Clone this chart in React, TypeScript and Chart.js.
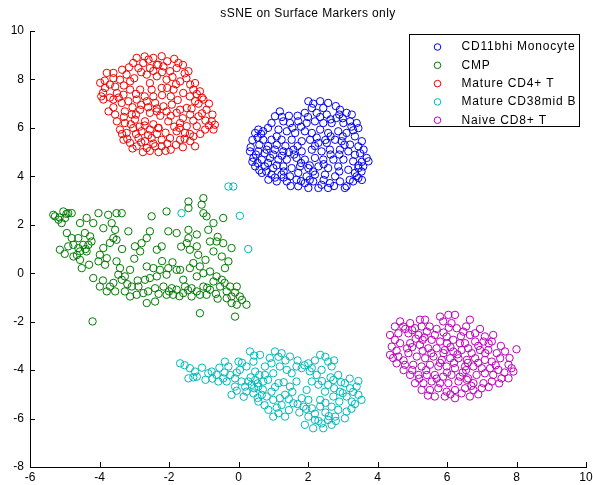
import { useEffect, useRef } from "react";
import { Chart, registerables } from "chart.js";

Chart.register(...registerables);

// ---- text ----
const TITLE = "sSNE on Surface Markers only";
const SERIES_NAMES = ["CD11bhi Monocyte", "CMP", "Mature CD4+ T", "Mature CD38mid B", "Naive CD8+ T"];
const SERIES_COLORS = ["#0000f0", "#007a00", "#f00000", "#00b8b8", "#b800b8"];

// ---- axis ranges / ticks ----
const X_MIN = -6, X_MAX = 10, X_STEP = 2;
const Y_MIN = -8, Y_MAX = 10, Y_STEP = 2;

// ---- embedded coordinates, one list per population ----
const cd11bhiMonocyte: [number, number][] = [
  [2.01, 7.10], [2.35, 7.10], [2.58, 7.03], [2.11, 6.82], [2.44, 6.82], [2.25, 6.62], [1.91, 6.62], [2.92, 6.75],
  [3.11, 6.62], [3.26, 6.55], [2.54, 6.55], [2.82, 6.41], [3.40, 6.20], [3.45, 5.99], [1.19, 6.68], [1.05, 6.48],
  [0.95, 6.20], [1.29, 6.27], [1.48, 6.20], [1.72, 6.27], [1.96, 6.20], [2.20, 6.27], [2.44, 6.20], [2.68, 6.20],
  [3.02, 6.20], [3.21, 6.27], [0.57, 5.93], [0.48, 5.79], [0.71, 5.86], [1.15, 5.93], [1.39, 5.86], [1.63, 5.79],
  [1.91, 5.86], [2.11, 5.79], [2.35, 5.93], [2.58, 5.79], [2.87, 5.86], [3.11, 5.79], [3.35, 5.65], [0.71, 5.51],
  [0.95, 5.51], [1.24, 5.51], [1.53, 5.51], [1.82, 5.45], [2.06, 5.51], [2.30, 5.38], [2.54, 5.38], [2.78, 5.51],
  [2.97, 5.45], [3.21, 5.31], [3.45, 5.24], [0.33, 5.03], [0.57, 5.03], [0.81, 5.10], [1.05, 5.10], [1.29, 5.03],
  [1.58, 5.10], [1.82, 5.03], [2.11, 5.10], [2.39, 5.03], [2.63, 5.10], [2.92, 5.10], [3.16, 5.03], [3.35, 4.89],
  [0.43, 4.76], [0.67, 4.69], [0.91, 4.76], [1.15, 4.69], [1.39, 4.69], [1.67, 4.76], [1.91, 4.69], [2.20, 4.76],
  [2.44, 4.69], [2.73, 4.69], [3.02, 4.69], [3.30, 4.62], [3.69, 4.76], [3.74, 4.62], [0.48, 4.41], [0.76, 4.41],
  [1.00, 4.34], [1.29, 4.41], [1.53, 4.34], [1.77, 4.41], [2.01, 4.34], [2.30, 4.41], [2.58, 4.34], [2.87, 4.41],
  [3.16, 4.27], [3.45, 4.34], [3.59, 4.41], [0.67, 4.14], [0.95, 4.07], [1.24, 4.07], [1.48, 4.00], [1.72, 4.14],
  [1.96, 4.00], [2.20, 4.07], [2.49, 4.07], [2.78, 4.00], [3.35, 4.14], [3.54, 4.20], [0.86, 3.86], [1.10, 3.79],
  [1.39, 3.79], [1.67, 3.86], [1.91, 3.72], [2.15, 3.79], [2.39, 3.65], [2.63, 3.72], [2.92, 3.79], [3.11, 3.59],
  [3.30, 3.79], [3.45, 3.93], [1.72, 3.59], [2.01, 3.52], [2.30, 3.52], [2.58, 3.52], [3.06, 3.52],
  [0.60, 5.30], [0.85, 5.25], [1.10, 5.30], [1.35, 5.25], [0.75, 4.95], [1.00, 4.90], [1.25, 4.85], [0.55, 4.55],
  [0.85, 4.55], [1.10, 4.45], [1.60, 4.90], [1.80, 4.55], [2.05, 4.45], [2.20, 5.25], [2.50, 5.50], [2.65, 4.90],
  [2.90, 4.90], [3.05, 5.30], [2.35, 6.45], [2.65, 6.35], [2.00, 6.45], [1.55, 6.00], [1.80, 6.05], [1.10, 5.65],
  [3.45, 4.45], [3.55, 4.60], [3.40, 4.00], [3.55, 3.85], [2.45, 3.85], [1.50, 3.60], [2.15, 4.20], [1.30, 4.20],
  [0.55, 5.60], [0.35, 5.20], [3.25, 6.05], [2.90, 6.55],
  [0.40, 5.50], [0.65, 5.75], [0.85, 6.00], [1.25, 6.45], [1.45, 6.50], [1.70, 6.50], [2.15, 7.00], [2.80, 6.90],
  [3.00, 6.40], [3.30, 5.90], [3.55, 5.45], [3.60, 5.10], [3.50, 4.95], [0.50, 4.90], [0.40, 4.60], [0.60, 4.25],
  [0.80, 4.20], [1.05, 3.95], [1.30, 3.95], [1.80, 3.80], [2.05, 3.85], [2.75, 3.60], [3.20, 3.85], [2.90, 4.20],
  [2.45, 4.50], [1.45, 5.00], [1.70, 5.25], [2.25, 5.60], [2.65, 5.65], [3.00, 5.65],
];

const cmp: [number, number][] = [
  [-1.01, 3.10], [-1.44, 2.96], [-1.44, 2.69], [-1.06, 2.83], [-1.01, 2.48], [-0.92, 2.35], [-0.72, 2.07], [-0.44, 2.28],
  [-0.87, 1.79], [-2.07, 2.55], [-2.50, 2.35], [-5.28, 2.35], [-5.18, 2.21], [-5.04, 2.55], [-4.90, 2.48], [-4.80, 2.48],
  [-4.99, 2.28], [-5.09, 2.07], [-5.33, 2.41], [-4.56, 2.07], [-4.37, 2.28], [-4.18, 2.07], [-4.03, 2.48], [-3.75, 2.41],
  [-3.51, 2.48], [-3.36, 2.48], [-3.65, 2.07], [-3.89, 1.86], [-3.17, 1.73], [-4.94, 1.66], [-4.80, 1.45], [-4.61, 1.45],
  [-4.42, 1.66], [-4.27, 1.52], [-4.75, 1.17], [-4.47, 1.17], [-4.32, 1.17], [-4.23, 1.31], [-5.14, 0.97], [-4.90, 1.11],
  [-4.61, 1.04], [-4.56, 0.90], [-4.37, 0.90], [-3.55, 1.79], [-3.51, 1.38], [-3.60, 1.45], [-3.89, 1.04], [-3.99, 0.76],
  [-4.03, 0.49], [-3.84, 0.35], [-3.79, 0.62], [-4.56, 0.55], [-4.75, 0.69], [-4.51, 0.21], [-2.55, 1.73], [-2.64, 1.45],
  [-2.79, 1.24], [-2.98, 1.11], [-2.83, 0.90], [-2.35, 0.97], [-2.21, 1.11], [-2.02, 1.73], [-1.78, 1.66], [-1.44, 1.79],
  [-1.44, 1.45], [-1.49, 1.24], [-1.40, 0.97], [-1.20, 1.11], [-0.82, 1.31], [-0.63, 1.31], [-0.44, 1.24], [-0.20, 1.04],
  [-0.72, 0.90], [-0.48, 0.69], [-0.29, 0.49], [-0.39, 0.21], [-1.16, 0.76], [-1.30, 0.42], [-3.51, 0.49], [-3.41, 0.21],
  [-3.46, -0.06], [-3.27, -0.13], [-3.12, 0.14], [-3.36, -0.27], [-3.70, -0.55], [-3.55, -0.75], [-3.27, -0.75], [-3.07, -0.55],
  [-2.88, -0.55], [-2.93, -0.89], [-2.74, -0.82], [-2.64, 0.28], [-2.45, 0.21], [-2.26, 0.14], [-2.02, 0.21], [-2.07, -0.06],
  [-2.35, -0.13], [-2.55, -0.20], [-2.69, -0.27], [-4.18, -0.20], [-3.99, -0.55], [-3.79, -0.75], [-2.40, -0.62], [-2.16, -0.55],
  [-1.92, -0.62], [-1.78, -0.68], [-1.59, -0.27], [-1.68, 0.14], [-1.40, 0.21], [-1.11, 0.28], [-1.20, -0.13], [-1.01, 0.00],
  [-0.82, 0.07], [-0.63, -0.13], [-0.72, -0.34], [-0.48, -0.27], [-0.53, -0.55], [-0.34, -0.75], [-0.24, -0.55], [-0.05, -0.55],
  [-0.20, -0.96], [0.04, -0.96], [0.23, -1.30], [-0.05, -1.30], [-0.20, -1.23], [-0.34, -1.03], [-1.59, -0.82], [-1.35, -0.96],
  [-1.11, -0.89], [-0.92, -0.89], [-0.82, -0.68], [-1.01, -0.55], [-1.88, -0.89], [-2.07, -0.89], [-2.64, -1.23], [-2.40, -1.17],
  [-3.12, -0.96], [-1.78, 0.14], [-1.54, -0.55], [-1.35, -0.62], [-1.11, -1.65], [-0.10, -1.79], [-4.20, -1.99],
  [-3.90, -0.30], [-3.60, -0.40], [-3.20, -0.45], [-2.90, -0.30], [-2.60, -0.75], [-2.30, -0.85], [-2.00, -0.75], [-1.70, -0.95],
  [-1.45, -0.70], [-1.20, -0.75], [-0.90, -0.60], [-0.65, -0.85], [-0.40, -0.40], [-0.10, -0.80], [0.10, -1.10], [-0.60, -1.05],
  [-4.30, 0.35], [-4.65, 0.75], [-5.00, 0.80], [-4.40, 1.00], [-3.70, 1.25], [-3.35, 1.00], [-3.00, 0.60], [-1.20, 1.60],
  [-1.65, 1.10], [-0.95, 0.55], [-0.60, 1.50], [-2.20, 0.50], [-1.90, 0.45], [-5.15, 2.30], [-4.95, 2.45],
];

const matureCd4T: [number, number][] = [
  [-2.93, 8.89], [-2.59, 8.82], [-2.45, 8.89], [-2.21, 8.96], [-1.73, 8.68], [-2.31, 8.61], [-2.74, 8.68], [-3.03, 8.68],
  [-2.88, 8.47], [-2.55, 8.47], [-2.16, 8.54], [-1.78, 8.47], [-1.44, 8.34], [-1.97, 8.34], [-3.79, 8.27], [-3.60, 8.27],
  [-3.41, 7.99], [-3.98, 7.86], [-3.70, 7.79], [-3.84, 7.65], [-3.22, 8.20], [-3.12, 7.92], [-2.64, 8.20], [-2.35, 8.13],
  [-2.07, 7.99], [-1.68, 7.92], [-1.39, 7.79], [-1.30, 7.58], [-1.11, 7.51], [-3.50, 7.44], [-3.31, 7.37], [-3.12, 7.58],
  [-2.83, 7.58], [-2.50, 7.58], [-2.21, 7.65], [-1.87, 7.58], [-1.59, 7.44], [-3.89, 7.17], [-3.60, 7.17], [-3.36, 7.03],
  [-3.17, 7.10], [-2.93, 7.17], [-2.64, 7.10], [-2.40, 7.03], [-2.16, 6.89], [-1.92, 6.96], [-1.68, 6.75], [-1.49, 6.82],
  [-1.25, 7.10], [-1.01, 7.17], [-0.92, 6.75], [-3.74, 6.68], [-3.55, 6.55], [-3.27, 6.68], [-3.07, 6.55], [-2.83, 6.75],
  [-2.55, 6.62], [-2.35, 6.68], [-2.07, 6.68], [-1.78, 6.62], [-1.39, 6.55], [-1.15, 6.48], [-0.77, 6.27], [-0.68, 6.13],
  [-3.50, 6.27], [-3.27, 6.20], [-2.98, 6.34], [-2.69, 6.27], [-2.02, 6.27], [-1.68, 6.20], [-1.49, 6.07], [-1.20, 6.07],
  [-0.96, 5.93], [-0.72, 5.93], [-3.41, 5.93], [-3.22, 5.79], [-3.03, 5.99], [-2.79, 5.86], [-2.55, 5.93], [-2.31, 5.99],
  [-1.78, 5.86], [-1.54, 5.79], [-1.30, 5.65], [-3.31, 5.51], [-3.12, 5.38], [-2.88, 5.58], [-2.69, 5.45], [-2.50, 5.58],
  [-2.21, 5.51], [-1.97, 5.58], [-1.68, 5.51], [-1.39, 5.45], [-1.25, 5.24], [-2.93, 5.24], [-2.64, 5.17], [-2.40, 5.24],
  [-2.21, 5.24],
  [-3.00, 8.05], [-2.80, 8.30], [-2.45, 8.35], [-2.20, 8.30], [-1.90, 8.10], [-1.60, 8.60], [-1.50, 8.05], [-3.90, 7.45],
  [-3.55, 7.70], [-3.30, 7.75], [-2.95, 7.40], [-2.70, 7.30], [-2.45, 7.30], [-2.20, 7.35], [-1.95, 7.30], [-1.75, 7.15],
  [-1.40, 7.30], [-1.20, 7.40], [-3.05, 6.85], [-2.80, 6.95], [-2.60, 6.85], [-2.35, 6.80], [-2.25, 6.50], [-1.95, 6.50],
  [-1.60, 6.40], [-1.35, 6.80], [-1.05, 6.60], [-0.85, 6.10], [-2.95, 6.55], [-2.70, 6.10], [-2.45, 6.15], [-3.10, 6.15],
  [-3.35, 5.75], [-2.95, 5.75], [-2.60, 5.70], [-2.35, 5.75], [-2.10, 5.80], [-1.85, 6.05], [-1.55, 5.55], [-1.10, 5.75],
  [-2.80, 5.40], [-2.45, 5.35], [-2.05, 5.35], [-1.80, 5.30], [-2.55, 5.05], [-2.30, 5.00], [-1.95, 5.10], [-3.70, 7.25],
  [-3.45, 7.25], [-1.15, 7.00],
  [-3.85, 7.95], [-3.60, 8.05], [-3.35, 8.40], [-3.15, 8.50], [-2.70, 8.95], [-2.05, 8.75], [-1.85, 8.85], [-1.55, 8.25],
  [-1.25, 7.85], [-1.05, 7.25], [-0.85, 7.00], [-0.75, 6.55], [-0.95, 6.30], [-1.30, 6.30], [-1.70, 6.00], [-2.30, 6.00],
  [-2.85, 6.05], [-3.20, 5.55], [-3.05, 5.15], [-2.75, 5.00], [-2.10, 5.05], [-1.60, 5.20], [-1.40, 5.75], [-3.60, 6.85],
  [-3.95, 7.30], [-3.30, 6.45], [-2.55, 7.85], [-2.05, 7.65], [-1.80, 7.80], [-2.35, 8.60],
];

const matureCd38midB: [number, number][] = [
  [-0.29, 3.58], [-0.15, 3.58], [-1.64, 2.48], [0.04, 2.37], [0.28, 1.00],
  [-1.68, -3.72], [-1.40, -3.92], [-1.25, -4.06], [-1.44, -4.34], [-1.20, -4.27], [-0.87, -4.13], [-0.77, -4.06], [-0.63, -4.20],
  [-0.39, -3.65], [-0.29, -3.85], [-0.44, -4.34], [-0.34, -4.47], [-0.24, -4.20], [-0.10, -4.68], [-0.20, -5.02], [0.00, -3.65],
  [0.04, -3.99], [0.23, -3.85], [0.43, -3.65], [0.33, -3.23], [0.62, -3.37], [0.48, -4.06], [0.28, -4.47], [0.38, -4.61],
  [0.23, -4.89], [0.43, -4.96], [0.57, -4.68], [0.71, -4.47], [0.76, -4.20], [0.76, -3.85], [0.95, -3.72], [1.05, -3.23],
  [1.24, -3.30], [1.48, -3.44], [1.19, -3.85], [1.00, -4.13], [1.15, -4.54], [0.95, -4.89], [0.81, -5.09], [1.00, -5.23],
  [1.19, -5.16], [1.34, -5.02], [1.48, -4.68], [1.67, -4.47], [1.53, -4.13], [1.39, -3.99], [1.67, -3.85], [1.82, -3.92],
  [2.01, -3.72], [2.11, -3.92], [2.35, -3.37], [2.58, -3.65], [2.68, -3.85], [2.39, -3.99], [2.25, -4.20], [2.11, -4.47],
  [1.96, -4.82], [1.82, -5.16], [1.58, -5.37], [1.24, -5.44], [1.15, -5.78], [1.34, -5.92], [1.87, -5.51], [2.01, -5.23],
  [2.11, -5.58], [2.35, -5.23], [2.49, -4.89], [2.58, -4.61], [2.73, -4.41], [2.87, -4.20], [3.06, -4.54], [3.21, -4.75],
  [3.40, -4.68], [3.45, -5.02], [3.54, -5.23], [3.26, -5.30], [3.11, -5.09], [2.92, -4.89], [2.73, -5.09], [2.68, -5.51],
  [2.87, -5.64], [3.11, -5.71], [3.06, -5.99], [2.78, -5.92], [2.58, -6.06], [2.39, -6.20], [2.20, -6.06], [2.01, -5.92],
  [1.91, -6.26], [2.15, -6.40], [2.44, -6.40], [2.68, -6.26], [0.86, -5.64], [1.00, -5.92], [0.09, -4.47], [0.19, -4.68],
  [0.48, -4.41], [-0.10, -4.34], [-0.58, -4.47], [0.57, -5.30], [0.67, -5.02],
  [0.35, -4.30], [0.55, -4.55], [0.70, -4.80], [0.45, -4.75], [0.60, -4.20], [0.85, -4.40], [1.70, -3.60], [1.90, -3.80],
  [2.05, -4.05], [1.30, -4.50], [1.05, -4.70], [1.55, -4.90], [2.30, -4.60], [2.75, -4.75], [2.90, -5.30], [3.00, -4.95],
  [3.30, -4.90], [3.35, -5.40], [2.50, -5.35], [2.20, -5.80], [2.50, -5.75], [2.30, -6.10], [1.75, -5.75], [1.45, -5.65],
  [-0.05, -4.10], [0.10, -3.70], [-0.55, -3.90], [-0.95, -4.40], [2.50, -3.45], [2.20, -3.60], [0.90, -3.50], [1.35, -3.60],
  [-1.55, -3.80], [-1.30, -4.30], [-1.05, -3.90], [-0.75, -4.35], [-0.40, -4.10], [-0.05, -4.85], [0.15, -5.10], [0.55, -5.15],
  [0.75, -5.45], [1.10, -5.55], [1.45, -5.20], [1.70, -5.40], [1.95, -5.60], [2.35, -5.50], [2.60, -5.90], [2.80, -6.10],
  [3.25, -5.60], [3.45, -4.45], [3.20, -4.35], [2.95, -4.50], [2.65, -4.30], [2.40, -4.45], [2.75, -3.60], [1.15, -3.45],
  [0.45, -3.40],
];

const naiveCd8T: [number, number][] = [
  [5.80, -1.79], [6.04, -1.72], [6.23, -1.72], [6.66, -1.92], [5.89, -1.99], [6.13, -2.06], [6.28, -2.27], [6.47, -2.41],
  [4.65, -1.99], [4.94, -2.06], [5.22, -1.92], [5.37, -1.92], [4.50, -2.20], [4.74, -2.20], [5.08, -2.27], [5.27, -2.20],
  [4.36, -2.55], [4.60, -2.48], [4.89, -2.48], [5.18, -2.55], [5.42, -2.41], [5.65, -2.55], [5.56, -2.75], [5.80, -2.82],
  [5.99, -2.61], [6.18, -2.75], [6.37, -2.89], [6.66, -2.55], [6.81, -2.48], [7.09, -2.61], [7.33, -2.55], [7.29, -2.82],
  [7.05, -2.82], [6.81, -2.82], [6.61, -3.10], [6.52, -2.89], [4.41, -3.03], [4.65, -2.89], [4.94, -2.89], [5.22, -2.96],
  [5.46, -3.10], [5.70, -3.10], [5.94, -3.17], [6.18, -3.23], [6.42, -3.17], [6.71, -3.30], [6.95, -3.17], [7.19, -3.17],
  [7.43, -3.30], [7.67, -3.23], [8.00, -3.14], [4.36, -3.37], [4.60, -3.44], [4.89, -3.30], [5.13, -3.44], [5.37, -3.51],
  [5.61, -3.44], [5.85, -3.58], [6.09, -3.51], [6.33, -3.51], [6.57, -3.58], [6.81, -3.51], [7.09, -3.58], [7.29, -3.65],
  [7.53, -3.51], [4.55, -3.72], [4.79, -3.78], [5.03, -3.78], [5.27, -3.85], [5.51, -3.78], [5.75, -3.85], [5.99, -3.85],
  [6.23, -3.92], [6.52, -3.85], [6.76, -3.85], [7.00, -3.92], [7.24, -3.92], [7.48, -3.99], [7.77, -3.78], [7.86, -3.92],
  [7.91, -4.06], [4.94, -4.20], [5.18, -4.20], [5.42, -4.20], [5.65, -4.20], [5.89, -4.27], [6.13, -4.20], [6.37, -4.27],
  [6.61, -4.34], [6.85, -4.20], [7.09, -4.13], [7.33, -4.20], [7.57, -4.34], [7.77, -4.34], [5.08, -4.54], [5.32, -4.54],
  [5.56, -4.47], [5.80, -4.54], [6.04, -4.54], [6.33, -4.47], [6.57, -4.40], [6.76, -4.54], [7.05, -4.54], [7.29, -4.47],
  [5.27, -4.82], [5.51, -4.82], [5.75, -4.75], [5.99, -4.89], [6.23, -4.82], [6.52, -4.75], [6.76, -4.82], [7.00, -4.75],
  [5.65, -5.09], [5.94, -5.09], [6.23, -5.16], [6.42, -4.96], [6.66, -5.09],
  [5.00, -3.05], [5.30, -3.20], [5.55, -3.30], [5.90, -3.30], [6.10, -3.05], [6.30, -3.35], [6.60, -3.70], [6.90, -3.70],
  [5.10, -2.70], [5.35, -2.65], [4.50, -2.75], [4.75, -3.60], [5.00, -4.00], [5.40, -4.00], [5.70, -4.35], [6.00, -4.10],
  [6.45, -4.10], [6.70, -4.65], [5.20, -4.35], [4.45, -3.50], [7.10, -3.30], [7.40, -3.80], [6.90, -3.00], [6.40, -2.60],
  [5.90, -2.45],
  [4.80, -2.30], [5.00, -2.35], [5.50, -2.20], [5.70, -2.30], [6.05, -2.25], [6.55, -2.20], [6.95, -2.30], [7.20, -2.90],
  [7.55, -3.00], [7.80, -3.50], [7.65, -4.10], [7.50, -4.55], [7.20, -4.70], [6.90, -5.00], [6.10, -5.00], [5.45, -5.05],
  [4.75, -4.00], [4.55, -3.20], [4.85, -3.10], [5.80, -3.70], [6.20, -3.70], [6.55, -4.00], [5.30, -2.75], [6.00, -2.90],
];

const SERIES_POINTS = [cd11bhiMonocyte, cmp, matureCd4T, matureCd38midB, naiveCd8T];

const FONT = "'Liberation Sans', Arial, Helvetica, sans-serif";
const MARKER_RADIUS = 3.7;

// Inward tick marks, title and boxed legend drawn on top of the plot.
const decorations = {
  id: "decorations",
  afterDraw(chart: any) {
    const { ctx, chartArea } = chart;
    const { left, right, top, bottom } = chartArea;
    const xs = chart.scales.x;
    const ys = chart.scales.y;
    const tickLen = 5;

    ctx.save();
    ctx.strokeStyle = "#000";
    ctx.lineWidth = 1;
    ctx.beginPath();
    for (let v = X_MIN; v <= X_MAX; v += X_STEP) {
      const px = Math.round(xs.getPixelForValue(v)) + 0.5;
      ctx.moveTo(px, bottom);
      ctx.lineTo(px, bottom - tickLen);
    }
    for (let v = Y_MIN; v <= Y_MAX; v += Y_STEP) {
      const py = Math.round(ys.getPixelForValue(v)) + 0.5;
      ctx.moveTo(left, py);
      ctx.lineTo(left + tickLen, py);
    }
    ctx.stroke();

    // title
    ctx.fillStyle = "#000";
    ctx.font = `12px ${FONT}`;
    (ctx as any).letterSpacing = "0.4px";
    ctx.textAlign = "center";
    ctx.textBaseline = "middle";
    ctx.fillText(TITLE, (left + right) / 2, 14);

    // legend
    const boxW = 170;
    const boxH = 92;
    const bx = Math.round(right - 7 - boxW) + 0.5;
    const by = Math.round(top + 3) + 0.5;
    ctx.fillStyle = "#fff";
    ctx.fillRect(bx, by, boxW, boxH);
    ctx.strokeStyle = "#000";
    ctx.strokeRect(bx, by, boxW, boxH);

    ctx.textAlign = "left";
    (ctx as any).letterSpacing = "0.8px";
    SERIES_NAMES.forEach((name, i) => {
      const cy = by + 12.5 + i * 18.3;
      ctx.beginPath();
      ctx.strokeStyle = SERIES_COLORS[i];
      ctx.arc(bx + 28, cy, 3.3, 0, Math.PI * 2);
      ctx.stroke();
      ctx.fillStyle = "#000";
      ctx.fillText(name, bx + 52, cy);
    });
    ctx.restore();
  },
};

export default function App() {
  const canvasRef = useRef<HTMLCanvasElement | null>(null);

  useEffect(() => {
    const canvas = canvasRef.current;
    if (!canvas) return;

    const datasets = SERIES_NAMES.map((name, i) => ({
      label: name,
      data: SERIES_POINTS[i].map(([x, y]) => ({ x, y })),
      showLine: false,
      pointStyle: "circle",
      pointRadius: MARKER_RADIUS,
      pointBorderWidth: 1,
      borderColor: SERIES_COLORS[i],
      backgroundColor: "rgba(0,0,0,0)",
      pointBackgroundColor: "rgba(0,0,0,0)",
      // later populations are painted over earlier ones
      order: SERIES_NAMES.length - i,
    }));

    const tickFont = { family: FONT, size: 12 };

    const chart = new Chart(canvas, {
      type: "scatter",
      data: { datasets },
      options: {
        responsive: false,
        animation: false,
        devicePixelRatio: 1,
        events: [],
        layout: { padding: { top: 31, right: 7, left: 0, bottom: 0 } },
        plugins: {
          legend: { display: false },
          title: { display: false },
          tooltip: { enabled: false },
        },
        scales: {
          x: {
            type: "linear",
            min: X_MIN,
            max: X_MAX,
            ticks: { stepSize: X_STEP, color: "#000", font: tickFont, padding: 3, maxRotation: 0, autoSkip: false },
            grid: { drawOnChartArea: false, drawTicks: false },
            border: { color: "#000", width: 1 },
            afterFit(scale: any) {
              scale.height = 18;
              scale.paddingLeft = 0;
              scale.paddingRight = 0;
            },
          },
          y: {
            type: "linear",
            min: Y_MIN,
            max: Y_MAX,
            ticks: { stepSize: Y_STEP, color: "#000", font: tickFont, padding: 6, autoSkip: false },
            grid: { drawOnChartArea: false, drawTicks: false },
            border: { color: "#000", width: 1 },
            afterFit(scale: any) {
              scale.width = 30;
              scale.paddingTop = 0;
              scale.paddingBottom = 0;
            },
          },
        },
      } as any,
      plugins: [decorations],
    });

    return () => chart.destroy();
  }, []);

  return (
    <div style={{ position: "absolute", left: 0, top: 0, width: 593, height: 485, background: "#fff" }}>
      <canvas ref={canvasRef} width={593} height={485} style={{ display: "block" }} />
    </div>
  );
}
